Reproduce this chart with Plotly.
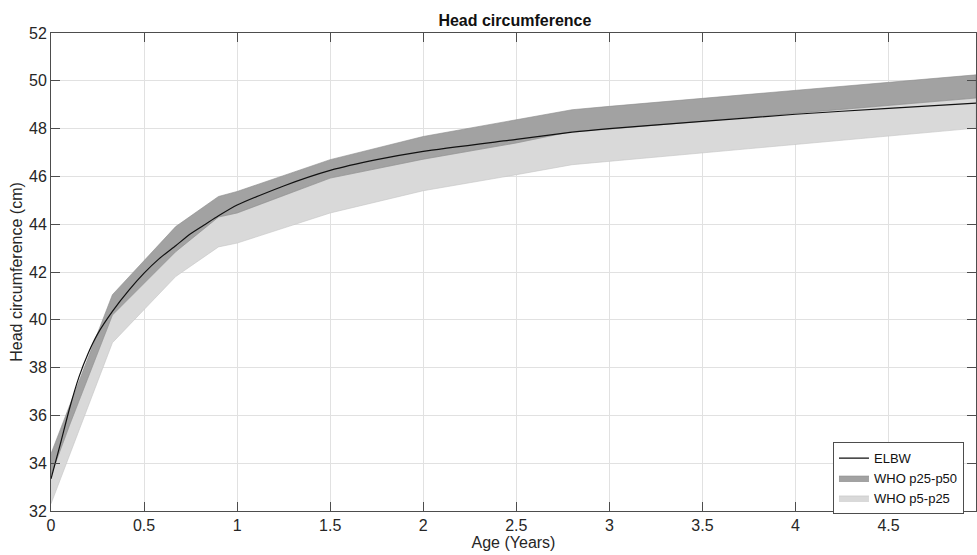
import plotly.graph_objects as go

# WHO reference percentile bands (cm) vs age (years)
who_age = [0, 0.1, 0.33, 0.67, 0.9, 1.0, 1.5, 2.0, 2.5, 2.8, 3.0, 4.97]
who_p50 = [34.40, 36.40, 41.05, 43.90, 45.16, 45.37, 46.70, 47.67, 48.37, 48.79, 48.93, 50.25]
who_p25 = [33.50, 35.60, 40.20, 42.85, 44.30, 44.47, 45.93, 46.72, 47.40, 47.88, 47.98, 49.28]
who_p5 = [32.30, 34.30, 39.04, 41.81, 43.05, 43.21, 44.47, 45.40, 46.07, 46.49, 46.63, 48.02]

# ELBW cohort curve
elbw_age = [0, 0.05, 0.1, 0.15, 0.2, 0.25, 0.33, 0.42, 0.5, 0.58, 0.67, 0.75, 0.83, 0.9, 1.0,
            1.25, 1.5, 1.75, 2.0, 2.5, 2.8, 3.0, 3.5, 4.0, 4.5, 4.97]
elbw_hc = [33.35, 34.8, 36.3, 37.6, 38.6, 39.4, 40.35, 41.25, 41.95, 42.55, 43.1, 43.6, 44.0, 44.35, 44.8,
           45.6, 46.25, 46.7, 47.05, 47.55, 47.85, 48.0, 48.3, 48.6, 48.85, 49.07]

FONT = "Liberation Sans, Arial, Helvetica, sans-serif"
fig = go.Figure()

def band(lower, upper, name, fill, edge, rank):
    fig.add_trace(go.Scatter(
        x=who_age + who_age[::-1], y=upper + lower[::-1],
        fill="toself", fillcolor=fill, mode="lines",
        line=dict(color=edge, width=0.6), name=name, legendrank=rank,
        hoverinfo="skip"))

band(who_p5, who_p25, "WHO p5-p25", "#d9d9d9", "#c4c4c4", 3)
band(who_p25, who_p50, "WHO p25-p50", "#a2a2a2", "#8c8c8c", 2)

fig.add_trace(go.Scatter(x=elbw_age, y=elbw_hc, mode="lines", name="ELBW",
                         line=dict(color="#111111", width=1.2, shape="spline", smoothing=0.6),
                         legendrank=1))

axis_common = dict(showline=True, linecolor="#4d4d4d", linewidth=1, mirror="allticks",
                   ticks="inside", ticklen=9, tickcolor="#4d4d4d", showgrid=True,
                   gridcolor="#e1e1e1", gridwidth=1, zeroline=False, automargin=False,
                   tickfont=dict(size=16, color="#262626", family=FONT))

fig.update_xaxes(range=[0, 4.97], dtick=0.5, tick0=0,
                 title=dict(text="Age (Years)", font=dict(size=16, color="#262626", family=FONT),
                            standoff=2),
                 **axis_common)
fig.update_yaxes(range=[32, 52], dtick=2, tick0=32,
                 title=dict(text="Head circumference (cm)", font=dict(size=16, color="#262626", family=FONT),
                            standoff=2),
                 **axis_common)

fig.update_layout(
    width=977, height=555,
    margin=dict(l=51, r=1, t=33, b=44),
    paper_bgcolor="white", plot_bgcolor="white",
    title=dict(text="<b>Head circumference</b>", x=0.527, xanchor="center", y=0.964, yanchor="middle",
               font=dict(size=16, color="#111111", family=FONT), automargin=False),
    legend=dict(x=0.987, y=0.144, xanchor="right", yanchor="top",
                bgcolor="white", bordercolor="#4d4d4d", borderwidth=1,
                font=dict(size=13, color="#111111", family=FONT),
                tracegroupgap=0, itemwidth=30),
    showlegend=True,
)

fig.write_html("out.html", config={"displayModeBar": False},
               post_script="document.body.style.margin='0';document.body.style.overflow='hidden';")
